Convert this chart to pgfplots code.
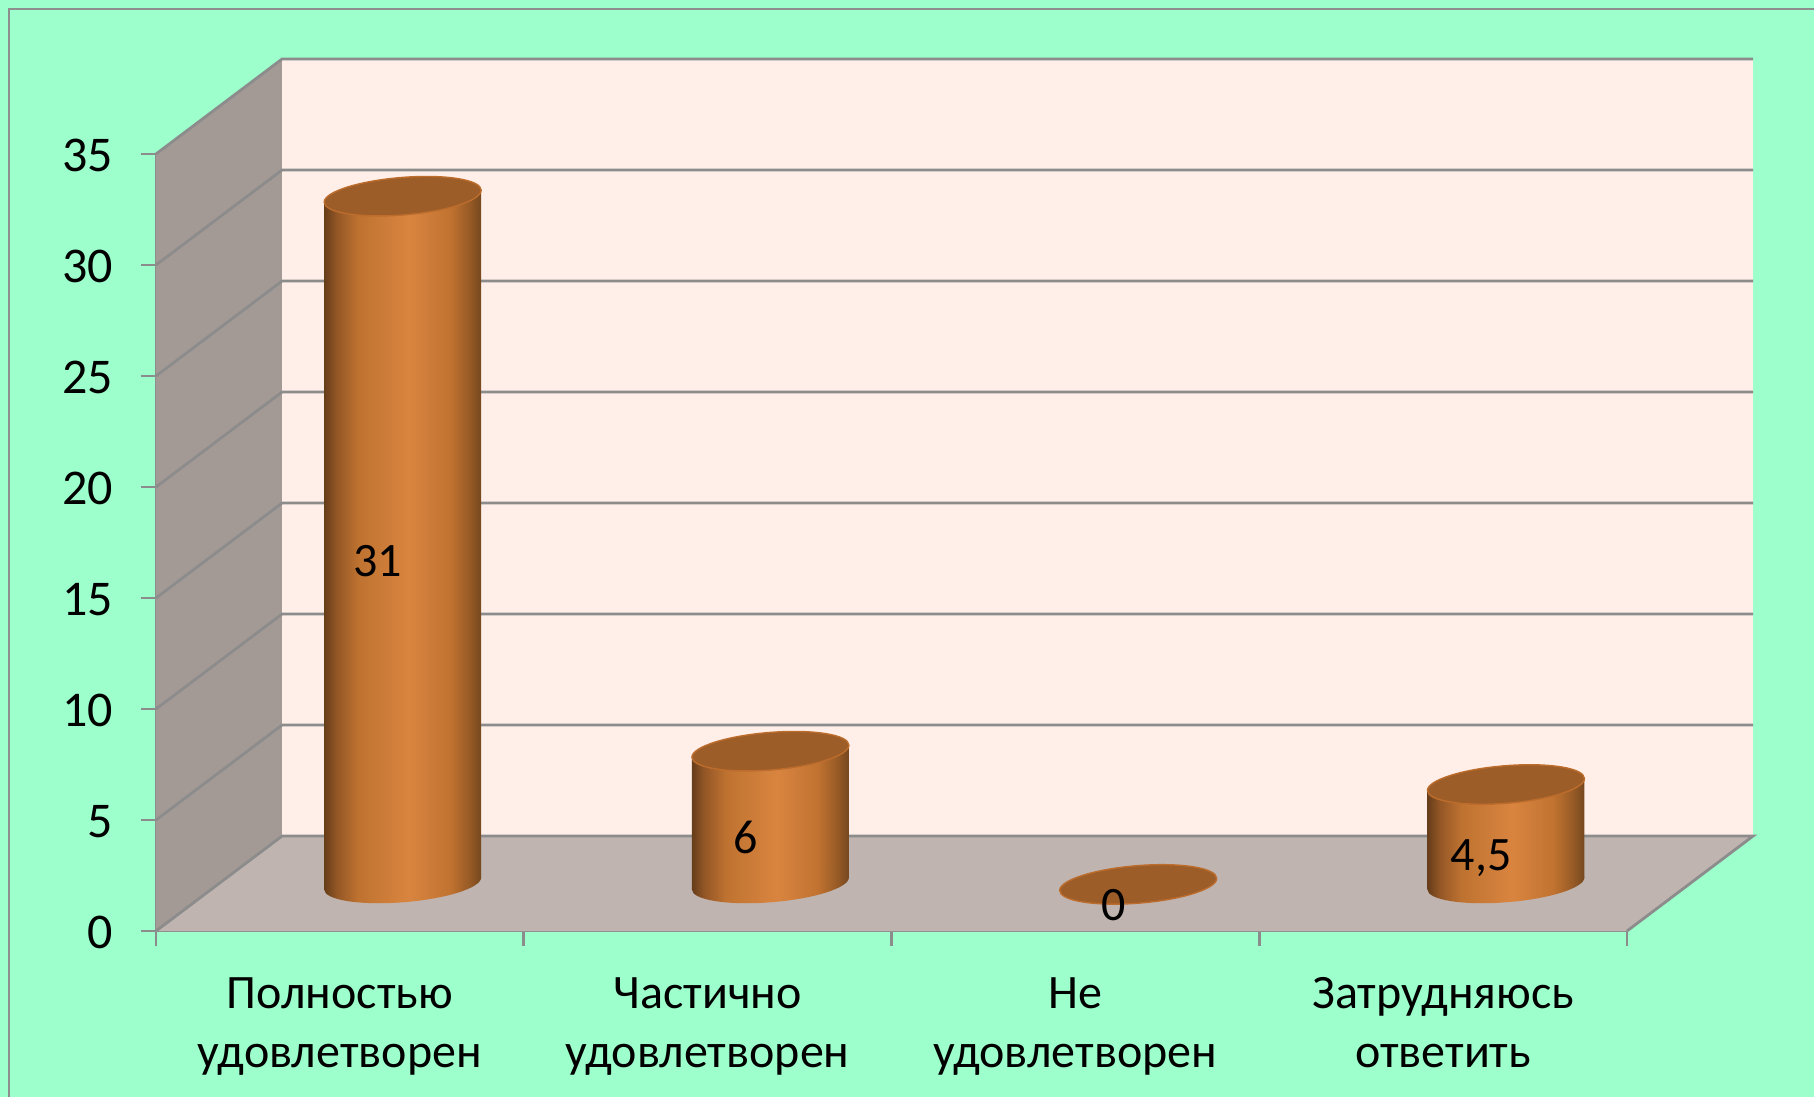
\documentclass[border=0pt]{standalone}
\usepackage{pgfplots}
\pgfplotsset{compat=1.18}
\usepackage{fontspec}
\setmainfont{Carlito}
\definecolor{bgc}{HTML}{9CFFCC}
\definecolor{framec}{HTML}{8E8E8E}
\definecolor{backc}{HTML}{FFEFE8}
\definecolor{sidec}{HTML}{A39A96}
\definecolor{floorc}{HTML}{BFB4AF}
\definecolor{gridc}{HTML}{8C8C8C}
\definecolor{topc}{HTML}{9C5D28}
\definecolor{rimc}{HTML}{BC6C2C}
\pgfdeclarehorizontalshading{cyl}{100bp}{
 rgb(0bp)=(0.40,0.24,0.10);
 rgb(25bp)=(0.40,0.24,0.10);
 rgb(29bp)=(0.58,0.34,0.15);
 rgb(36bp)=(0.75,0.45,0.19);
 rgb(52bp)=(0.85,0.52,0.25);
 rgb(65bp)=(0.76,0.45,0.19);
 rgb(71bp)=(0.60,0.36,0.15);
 rgb(75bp)=(0.46,0.28,0.12);
 rgb(100bp)=(0.46,0.28,0.12)}
\pgfdeclareplotmark{cyltop}{%
 \pgfpathellipse{\pgfpointorigin}{\pgfqpoint{39.25pt}{3pt}}{\pgfqpoint{0pt}{9.4pt}}%
 \pgfusepathqfillstroke}
\pgfdeclareplotmark{cylbase}{%
 \pgfpathellipse{\pgfpointorigin}{\pgfqpoint{39.25pt}{3pt}}{\pgfqpoint{0pt}{9.4pt}}%
 \pgfshadepath{cyl}{0}\pgfusepath{discard}}
\tikzset{wallline/.style={draw=gridc,line width=1.4pt}}
\begin{document}
\begin{tikzpicture}
\path[use as bounding box] (-78pt,-83pt) rectangle (829pt,465.5pt);
\fill[bgc] (-78pt,-83pt) rectangle (829pt,465.5pt);
\draw[framec,line width=1.3pt] (-73.5pt,-83pt) -- (-73.5pt,461pt) -- (829pt,461pt);
\begin{axis}[
  at={(0pt,0pt)},anchor=south west,scale only axis,
  width=735.5pt,height=388.5pt,
  xmin=0,xmax=4,ymin=0,ymax=35,clip=false,
  axis x line*=bottom,axis y line*=left,
  axis line style={draw=gridc,line width=1.4pt,-},
  tick align=outside,major tick length=7.5pt,
  tick style={draw=gridc,line width=1.4pt},
  ytick={0,5,...,35},
  xtick={0,1,2,3,4},
  x tick label as interval=true,
  xticklabels={{Полностью\\удовлетворен},{Частично\\удовлетворен},{Не\\удовлетворен},{Затрудняюсь\\ответить}},
  xticklabel style={align=center,font=\fontsize{24}{29.5}\selectfont,yshift=-12.4pt},
  yticklabel style={font=\fontsize{25}{30}\selectfont,xshift=-10.5pt,yshift=-0.7pt},
  /pgf/number format/assume math mode=true,
]
% walls
\addplot[fill=sidec,draw=none,forget plot] coordinates {(0,0)(0,35)(0.343,39.28)(0.343,4.28)} --cycle;
\addplot[fill=backc,draw=none,forget plot] coordinates {(0.343,4.28)(0.343,39.28)(4.343,39.28)(4.343,4.28)} --cycle;
\addplot[fill=floorc,draw=none,forget plot] coordinates {(0,0)(0.343,4.28)(4.343,4.28)(4,0)} --cycle;
% grid
\addplot[wallline,forget plot] coordinates {(0,0)(0.343,4.28)(4.343,4.28)(4,0)};
\addplot[wallline,forget plot] coordinates {(0,5)(0.343,9.28)(4.343,9.28)};
\addplot[wallline,forget plot] coordinates {(0,10)(0.343,14.28)(4.343,14.28)};
\addplot[wallline,forget plot] coordinates {(0,15)(0.343,19.28)(4.343,19.28)};
\addplot[wallline,forget plot] coordinates {(0,20)(0.343,24.28)(4.343,24.28)};
\addplot[wallline,forget plot] coordinates {(0,25)(0.343,29.28)(4.343,29.28)};
\addplot[wallline,forget plot] coordinates {(0,30)(0.343,34.28)(4.343,34.28)};
\addplot[wallline,forget plot] coordinates {(0,35)(0.343,39.28)(4.343,39.28)};
% cylinder bases
\addplot[only marks,mark=cylbase,xshift=31.4pt,yshift=23.75pt,forget plot] coordinates {(0.5,0)(1.5,0)(3.5,0)};
% cylinder bodies
\addplot[shade,shading=cyl,draw=none,xshift=31.4pt,yshift=23.75pt,forget plot] coordinates {(0.2865,-0.27)(0.7135,0.27)(0.7135,31.27)(0.2865,30.73)} --cycle;
\addplot[shade,shading=cyl,draw=none,xshift=31.4pt,yshift=23.75pt,forget plot] coordinates {(1.2865,-0.27)(1.7135,0.27)(1.7135,6.27)(1.2865,5.73)} --cycle;
\addplot[shade,shading=cyl,draw=none,xshift=31.4pt,yshift=23.75pt,forget plot] coordinates {(3.2865,-0.27)(3.7135,0.27)(3.7135,4.77)(3.2865,4.23)} --cycle;
% cylinder tops
\addplot[only marks,mark=cyltop,mark options={fill=topc,draw=rimc,line width=0.7pt},xshift=31.4pt,yshift=23.3pt,forget plot] coordinates {(0.5,31)(1.5,6)(2.5,0)(3.5,4.5)};
% value labels
\addplot[draw=none,mark=none,forget plot,point meta=explicit symbolic,
  nodes near coords,
  every node near coord/.append style={anchor=base,xshift=19pt,yshift=5.3pt,font=\fontsize{24}{28}\selectfont,text=black}]
  coordinates {(0.5,15.5)[31] (1.5,3)[6] (2.5,0)[0] (3.5,2.25)[{4,5}]};
\end{axis}
\end{tikzpicture}
\end{document}
